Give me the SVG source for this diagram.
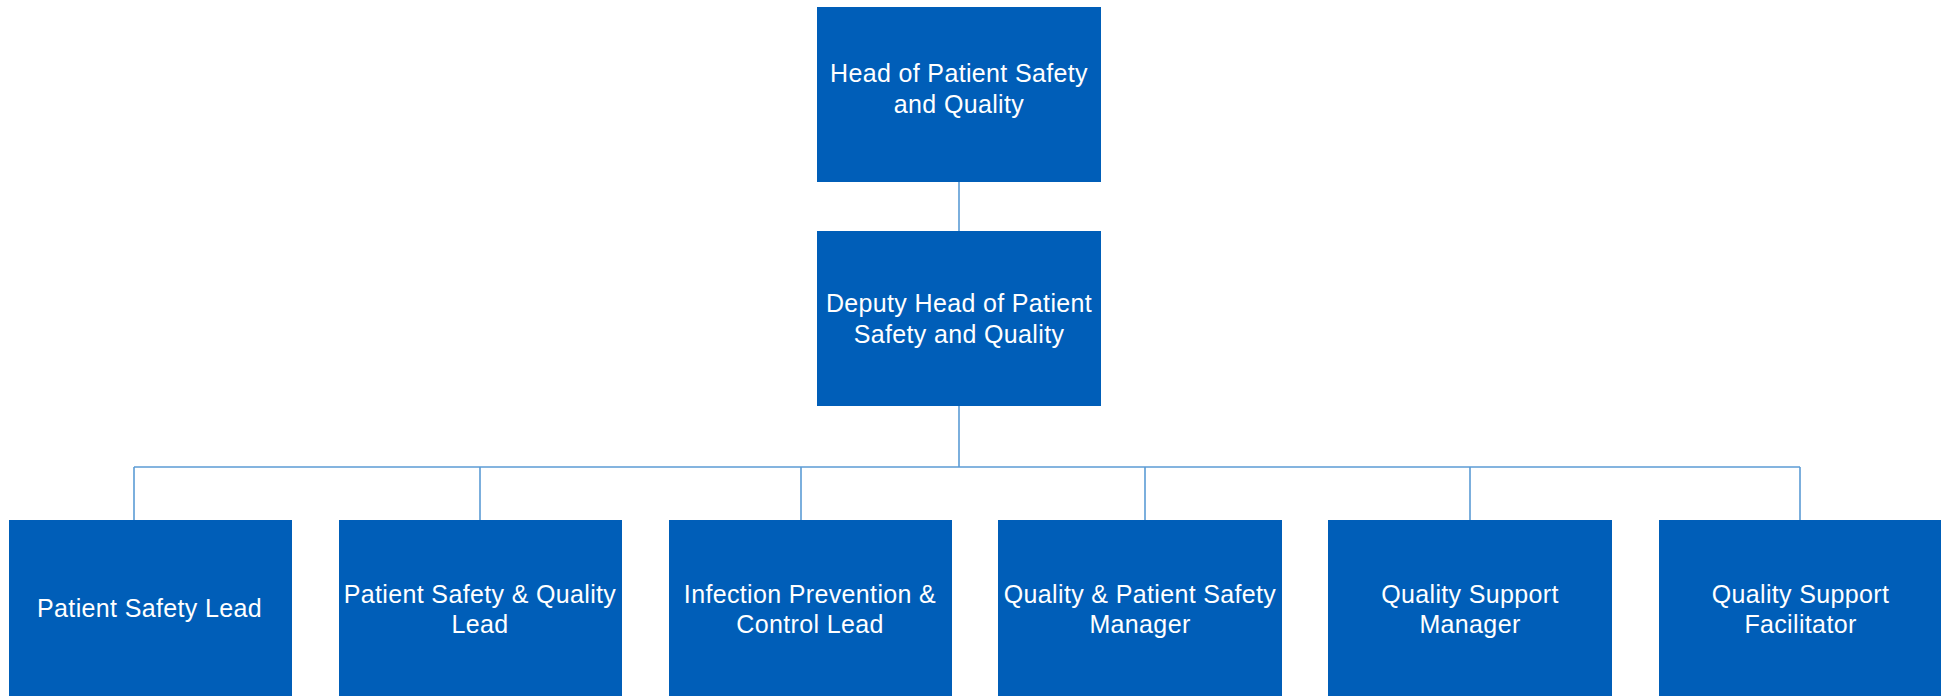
<svg xmlns="http://www.w3.org/2000/svg" width="1941" height="696" viewBox="0 0 1941 696">
<style>
.box{fill:#005EB8;}
.lbl{font-family:"Liberation Sans",Arial,sans-serif;font-size:25px;letter-spacing:0.35px;fill:#ffffff;text-anchor:middle;}
.conn{stroke:#5B9BD5;stroke-width:1.6;fill:none;}
</style>
<rect width="1941" height="696" fill="#ffffff"/>
<g id="connectors">
<line class="conn" x1="959" y1="182" x2="959" y2="231"/>
<line class="conn" x1="959" y1="406" x2="959" y2="467"/>
<line class="conn" x1="134" y1="467" x2="1800" y2="467"/>
<line class="conn" x1="134" y1="467" x2="134" y2="520"/>
<line class="conn" x1="480" y1="467" x2="480" y2="520"/>
<line class="conn" x1="801" y1="467" x2="801" y2="520"/>
<line class="conn" x1="1145" y1="467" x2="1145" y2="520"/>
<line class="conn" x1="1470" y1="467" x2="1470" y2="520"/>
<line class="conn" x1="1800" y1="467" x2="1800" y2="520"/>
</g>
<g id="head">
<rect class="box" x="817" y="7" width="284" height="175"/>
<text class="lbl" x="959" y="82">Head of Patient Safety</text>
<text class="lbl" x="959" y="113">and Quality</text>
</g>
<g id="deputy">
<rect class="box" x="817" y="231" width="284" height="175"/>
<text class="lbl" x="959" y="311.5">Deputy Head of Patient</text>
<text class="lbl" x="959" y="342.5">Safety and Quality</text>
</g>
<g id="psl">
<rect class="box" x="9" y="520" width="283" height="176"/>
<text class="lbl" x="149.5" y="617">Patient Safety Lead</text>
</g>
<g id="psql">
<rect class="box" x="339" y="520" width="283" height="176"/>
<text class="lbl" x="480" y="603">Patient Safety &amp; Quality</text>
<text class="lbl" x="480" y="633">Lead</text>
</g>
<g id="ipcl">
<rect class="box" x="669" y="520" width="283" height="176"/>
<text class="lbl" x="810" y="603">Infection Prevention &amp;</text>
<text class="lbl" x="810" y="633">Control Lead</text>
</g>
<g id="qpsm">
<rect class="box" x="998" y="520" width="284" height="176"/>
<text class="lbl" x="1140" y="603">Quality &amp; Patient Safety</text>
<text class="lbl" x="1140" y="633">Manager</text>
</g>
<g id="qsm">
<rect class="box" x="1328" y="520" width="284" height="176"/>
<text class="lbl" x="1470" y="603">Quality Support</text>
<text class="lbl" x="1470" y="633">Manager</text>
</g>
<g id="qsf">
<rect class="box" x="1659" y="520" width="283" height="176"/>
<text class="lbl" x="1800.5" y="603">Quality Support</text>
<text class="lbl" x="1800.5" y="633">Facilitator</text>
</g>
</svg>
